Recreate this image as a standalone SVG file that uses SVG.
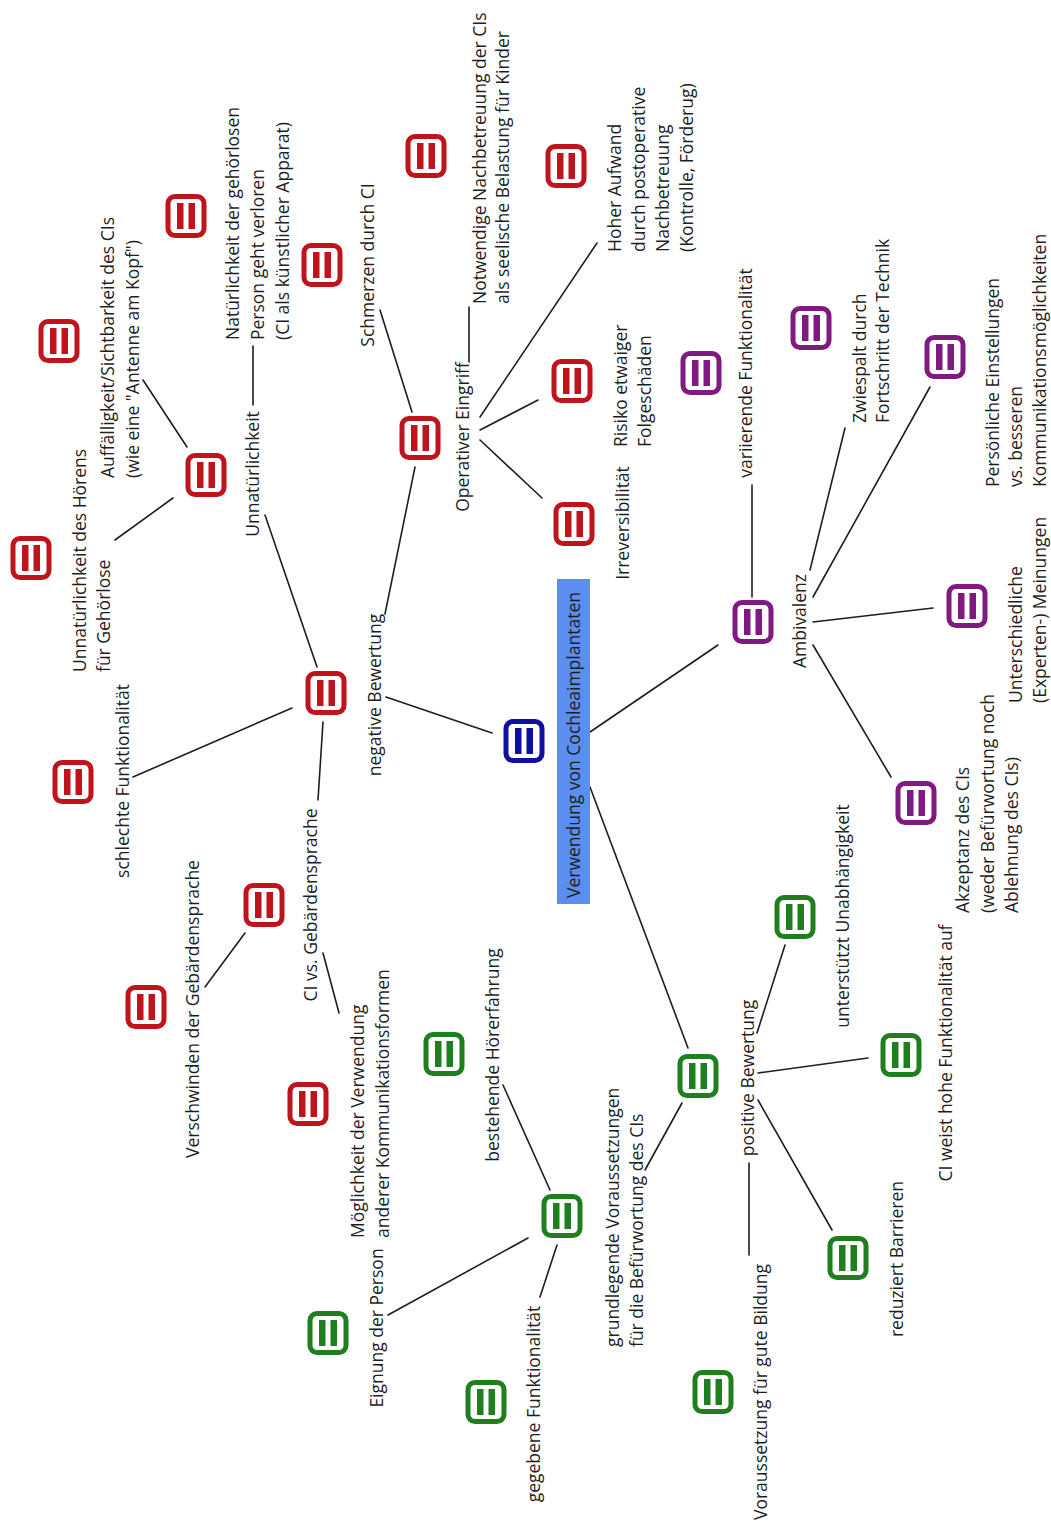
<svg xmlns="http://www.w3.org/2000/svg" xmlns:xlink="http://www.w3.org/1999/xlink" width="1051" height="1525" viewBox="0 0 1051 1525">
<style>
.t{font-family:"Open Sans","DejaVu Sans",sans-serif;font-size:17.5px;fill:#1e1e1e}
.m{text-anchor:middle}
.conn line{stroke:#1e1e1e;stroke-width:1.6;fill:none;stroke-linecap:round}
.red{color:#c0141c}
.pur{color:#7e1a80}
.grn{color:#1f7f1f}
.blu{color:#1010a0}
</style>
<defs>
<!-- note icon: rounded frame with two bars -->
<g id="ic">
<rect x="-18" y="-19.5" width="36" height="39" rx="7" fill="#fff" stroke="currentColor" stroke-width="5"/>
<rect x="-9" y="-13" width="6.5" height="26" fill="currentColor"/>
<rect x="2.5" y="-13" width="6.5" height="26" fill="currentColor"/>
</g>
</defs>
<rect width="1051" height="1525" fill="#fff"/>

<g class="conn">
<line x1="317" y1="667" x2="265" y2="515"/>
<line x1="385" y1="614" x2="415" y2="467"/>
<line x1="292" y1="708" x2="133" y2="777"/>
<line x1="323" y1="722" x2="318" y2="800"/>
<line x1="386" y1="697" x2="492" y2="733"/>
<line x1="253" y1="405" x2="253" y2="346"/>
<line x1="143" y1="380" x2="187" y2="447"/>
<line x1="173" y1="498" x2="115" y2="540"/>
<line x1="380" y1="310" x2="412" y2="412"/>
<line x1="469" y1="362" x2="469" y2="307"/>
<line x1="480" y1="417" x2="597" y2="243"/>
<line x1="480" y1="430" x2="538" y2="400"/>
<line x1="480" y1="440" x2="542" y2="498"/>
<line x1="590" y1="732" x2="718" y2="645"/>
<line x1="752" y1="597" x2="752" y2="485"/>
<line x1="810" y1="570" x2="845" y2="428"/>
<line x1="813" y1="597" x2="930" y2="387"/>
<line x1="813" y1="622" x2="933" y2="608"/>
<line x1="813" y1="645" x2="891" y2="777"/>
<line x1="590" y1="787" x2="688" y2="1048"/>
<line x1="757" y1="1033" x2="785" y2="945"/>
<line x1="758" y1="1073" x2="868" y2="1058"/>
<line x1="758" y1="1100" x2="832" y2="1230"/>
<line x1="749" y1="1163" x2="749" y2="1255"/>
<line x1="682" y1="1103" x2="645" y2="1170"/>
<line x1="550" y1="1190" x2="503" y2="1085"/>
<line x1="528" y1="1238" x2="388" y2="1315"/>
<line x1="557" y1="1245" x2="540" y2="1297"/>
<line x1="245" y1="933" x2="205" y2="987"/>
<line x1="323" y1="953" x2="339" y2="1013"/>
</g>

<!-- central topic -->
<g id="center">
<rect x="557" y="579" width="33" height="325" fill="#5b8ef0"/>
<use href="#ic" class="blu" transform="translate(524,741)"/>
<text class="t m" transform="translate(580,745) rotate(-90)">Verwendung von Cochleaimplantaten</text>
</g>

<!-- negative branch -->
<g id="neg">
<use href="#ic" class="red" transform="translate(326,693)"/>
<text class="t m" transform="translate(381,695) rotate(-90)">negative Bewertung</text>
</g>
<g id="unnat">
<use href="#ic" class="red" transform="translate(206,475)"/>
<text class="t m" transform="translate(259,474) rotate(-90)">Unnatürlichkeit</text>
</g>
<g id="natur">
<use href="#ic" class="red" transform="translate(186,216)"/>
<text class="t" transform="translate(239,340) rotate(-90)"><tspan x="0" y="0">Natürlichkeit der gehörlosen</tspan><tspan x="0" y="25">Person geht verloren</tspan><tspan x="0" y="50">(CI als künstlicher Apparat)</tspan></text>
</g>
<g id="auff">
<use href="#ic" class="red" transform="translate(59,341)"/>
<text class="t" transform="translate(114,478) rotate(-90)"><tspan x="0" y="0">Auffälligkeit/Sichtbarkeit des CIs</tspan><tspan x="0" y="25">(wie eine "Antenne am Kopf")</tspan></text>
</g>
<g id="hoeren">
<use href="#ic" class="red" transform="translate(31,558)"/>
<text class="t" transform="translate(86,672) rotate(-90)"><tspan x="0" y="0">Unnatürlichkeit des Hörens</tspan><tspan x="0" y="24">für Gehörlose</tspan></text>
</g>
<g id="schlecht">
<use href="#ic" class="red" transform="translate(73,782)"/>
<text class="t m" transform="translate(129,781) rotate(-90)">schlechte Funktionalität</text>
</g>
<g id="schmerz">
<use href="#ic" class="red" transform="translate(322,265)"/>
<text class="t m" transform="translate(374,265) rotate(-90)">Schmerzen durch CI</text>
</g>
<g id="op">
<use href="#ic" class="red" transform="translate(420,438)"/>
<text class="t m" transform="translate(469,437) rotate(-90)">Operativer Eingriff</text>
</g>
<g id="notw">
<use href="#ic" class="red" transform="translate(426,156)"/>
<text class="t" transform="translate(486,304) rotate(-90)"><tspan x="0" y="0">Notwendige Nachbetreuung der CIs</tspan><tspan x="0" y="23">als seelische Belastung für Kinder</tspan></text>
</g>
<g id="irrev">
<use href="#ic" class="red" transform="translate(574,524)"/>
<text class="t m" transform="translate(629,523) rotate(-90)">Irreversibilität</text>
</g>
<g id="risiko">
<use href="#ic" class="red" transform="translate(572,381)"/>
<text class="t" transform="translate(627,447) rotate(-90)"><tspan x="0" y="0">Risiko etwaiger</tspan><tspan x="0" y="24">Folgeschäden</tspan></text>
</g>
<g id="hoher">
<use href="#ic" class="red" transform="translate(566,166)"/>
<text class="t" transform="translate(621,252) rotate(-90)"><tspan x="0" y="0">Hoher Aufwand</tspan><tspan x="0" y="24">durch postoperative</tspan><tspan x="0" y="48">Nachbetreuung</tspan><tspan x="0" y="72">(Kontrolle, Förderug)</tspan></text>
</g>
<g id="civs">
<use href="#ic" class="red" transform="translate(264,905)"/>
<text class="t m" transform="translate(317,905) rotate(-90)">CI vs. Gebärdensprache</text>
</g>
<g id="versch">
<use href="#ic" class="red" transform="translate(146,1007)"/>
<text class="t m" transform="translate(199,1009) rotate(-90)">Verschwinden der Gebärdensprache</text>
</g>
<g id="moegl">
<use href="#ic" class="red" transform="translate(308,1104)"/>
<text class="t" transform="translate(364,1238) rotate(-90)"><tspan x="0" y="0">Möglichkeit der Verwendung</tspan><tspan x="0" y="25">anderer Kommunikationsformen</tspan></text>
</g>

<!-- ambivalent branch -->
<g id="amb">
<use href="#ic" class="pur" transform="translate(753,622)"/>
<text class="t m" transform="translate(806,621) rotate(-90)">Ambivalenz</text>
</g>
<g id="var">
<use href="#ic" class="pur" transform="translate(701,373)"/>
<text class="t m" transform="translate(752,373) rotate(-90)">variierende Funktionalität</text>
</g>
<g id="zwie">
<use href="#ic" class="pur" transform="translate(811,328)"/>
<text class="t" transform="translate(866,423) rotate(-90)"><tspan x="0" y="0">Zwiespalt durch</tspan><tspan x="0" y="23">Fortschritt der Technik</tspan></text>
</g>
<g id="pers">
<use href="#ic" class="pur" transform="translate(945,357)"/>
<text class="t" transform="translate(999,487) rotate(-90)"><tspan x="0" y="0">Persönliche Einstellungen</tspan><tspan x="0" y="23">vs. besseren</tspan><tspan x="0" y="47">Kommunikationsmöglichkeiten</tspan></text>
</g>
<g id="unter">
<use href="#ic" class="pur" transform="translate(967,606)"/>
<text class="t" transform="translate(1022,703) rotate(-90)"><tspan x="0" y="0">Unterschiedliche</tspan><tspan x="0" y="24">(Experten-) Meinungen</tspan></text>
</g>
<g id="akz">
<use href="#ic" class="pur" transform="translate(916,803)"/>
<text class="t" transform="translate(969,913) rotate(-90)"><tspan x="0" y="0">Akzeptanz des CIs</tspan><tspan x="0" y="25">(weder Befürwortung noch</tspan><tspan x="0" y="49">Ablehnung des CIs)</tspan></text>
</g>

<!-- positive branch -->
<g id="pos">
<use href="#ic" class="grn" transform="translate(698,1076)"/>
<text class="t m" transform="translate(754,1078) rotate(-90)">positive Bewertung</text>
</g>
<g id="unab">
<use href="#ic" class="grn" transform="translate(795,917)"/>
<text class="t m" transform="translate(849,916) rotate(-90)">unterstützt Unabhängigkeit</text>
</g>
<g id="hoch">
<use href="#ic" class="grn" transform="translate(901,1055)"/>
<text class="t m" transform="translate(952,1053) rotate(-90)">CI weist hohe Funktionalität auf</text>
</g>
<g id="barr">
<use href="#ic" class="grn" transform="translate(848,1258)"/>
<text class="t m" transform="translate(903,1259) rotate(-90)">reduziert Barrieren</text>
</g>
<g id="bild">
<use href="#ic" class="grn" transform="translate(713,1392)"/>
<text class="t m" transform="translate(767,1392) rotate(-90)">Voraussetzung für gute Bildung</text>
</g>
<g id="grund">
<use href="#ic" class="grn" transform="translate(562,1216)"/>
<text class="t" transform="translate(619,1347) rotate(-90)"><tspan x="0" y="0">grundlegende Voraussetzungen</tspan><tspan x="0" y="24">für die Befürwortung des CIs</tspan></text>
</g>
<g id="best">
<use href="#ic" class="grn" transform="translate(444,1054)"/>
<text class="t m" transform="translate(499,1055) rotate(-90)">bestehende Hörerfahrung</text>
</g>
<g id="eign">
<use href="#ic" class="grn" transform="translate(328,1333)"/>
<text class="t m" transform="translate(383,1328) rotate(-90)">Eignung der Person</text>
</g>
<g id="geg">
<use href="#ic" class="grn" transform="translate(486,1402)"/>
<text class="t m" transform="translate(540,1404) rotate(-90)">gegebene Funktionalität</text>
</g>
</svg>
